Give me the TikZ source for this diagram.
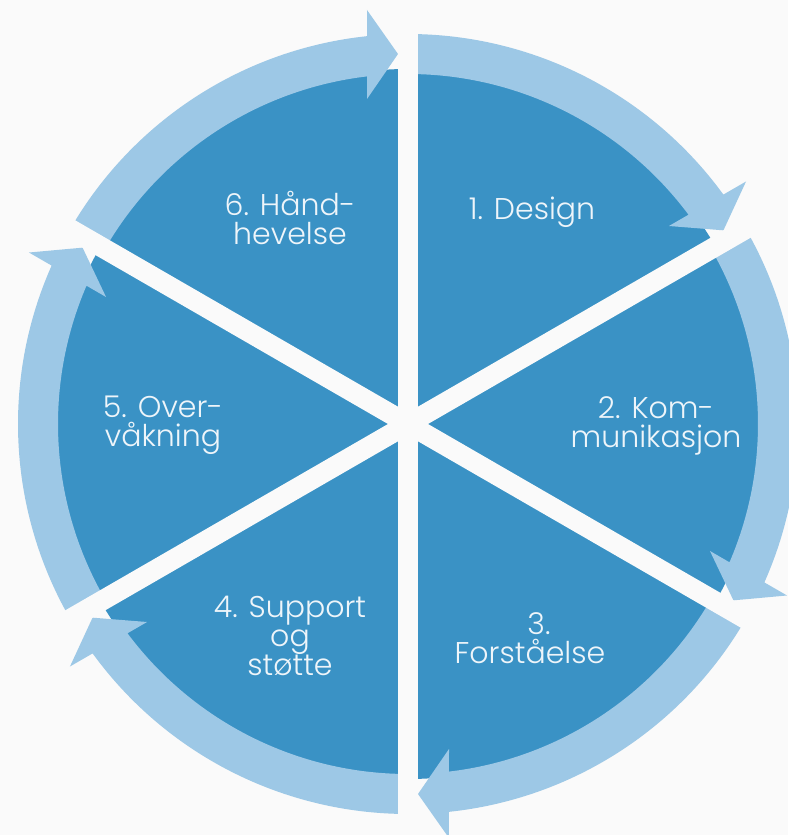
\documentclass[tikz,border=0pt]{standalone}
\usepackage{fontspec}
\setmainfont{Poppins}[UprightFont=* Light]
\definecolor{darkblue}{HTML}{3A92C5}
\definecolor{lightblue}{HTML}{9DC8E6}
\definecolor{paper}{HTML}{FAFAFA}
\definecolor{txt}{HTML}{EEF5FA}
\begin{document}
\begin{tikzpicture}[x=1pt,y=1pt,
  wedgetext/.style={text=txt, align=center, font=\fontsize{30}{29}\selectfont, inner sep=0pt},
  ringarrow/.style={fill=lightblue},
  gapline/.style={draw=paper, line width=20pt}]
\fill[paper] (-408,-411) rectangle (380,424);
\useasboundingbox (-408,-411) rectangle (380,424);
\fill[darkblue] (0,0) circle[radius=355];
\foreach \s/\e in {90/30,30/-30,-30/-90,-90/-150,-150/-210,150/90}{
  \begin{scope}[rotate=\e]
    \path[ringarrow] ({\s-\e}:390) arc[start angle={\s-\e}, end angle={asin(41/390)}, radius=390]
      -- (414,41) -- (370,10) -- (325,41) -- ({asin(41/350)}:350)
      arc[start angle={asin(41/350)}, end angle={\s-\e}, radius=350] -- cycle;
  \end{scope}
}
\foreach \a in {90,30,-30}{
  \path[gapline] (\a:430) -- ({\a+180}:430);
}
\node[wedgetext] (t1) at (124,212) {1. Design};
\node[wedgetext] (t2) at (248,-2) {2. Kom-\\munikasjon};
\node[wedgetext] (t3) at (122,-214) {\hspace*{0.6em}3.\\Forståelse};
\node[wedgetext] (t4) at (-118,-212) {4. Support\\og\\støtte};
\node[wedgetext] (t5) at (-245,-1) {5. Over-\\våkning};
\node[wedgetext] (t6) at (-118,206) {6. Hånd-\\hevelse};
\end{tikzpicture}
\end{document}
